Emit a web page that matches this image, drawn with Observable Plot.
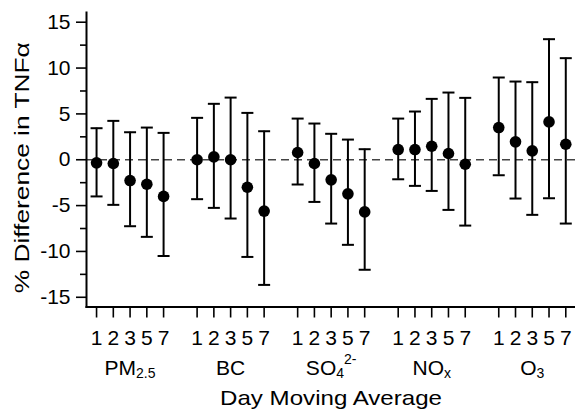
<!DOCTYPE html>
<html><head><meta charset="utf-8">
<script src="https://cdn.jsdelivr.net/npm/d3@7"></script>
<script src="https://cdn.jsdelivr.net/npm/@observablehq/plot@0.6"></script>
<style>html,body{margin:0;padding:0;background:#fff} svg{display:block}</style>
</head><body><div id="chart"></div>
<script>
// ---- data ----
const pollutants = ["PM2.5", "BC", "SO42-", "NOx", "O3"];
const labelBase = ["PM", "BC", "SO", "NO", "O"];
const labelSub = ["2.5", "", "4", "x", "3"];
const labelSup = ["", "", "2-", "", ""];
const days = ["1", "2", "3", "5", "7"];
const estimate = [
  -0.34, -0.41, -2.27, -2.67, -4.0,
  0.0, 0.31, 0.0, -3.0, -5.6,
  0.79, -0.41, -2.19, -3.72, -5.69,
  1.11, 1.11, 1.47, 0.68, -0.49,
  3.51, 1.95, 0.97, 4.13, 1.69
];
const lower = [
  -4.0, -4.92, -7.25, -8.41, -10.5,
  -4.3, -5.25, -6.41, -10.6, -13.65,
  -2.7, -4.6, -6.96, -9.28, -12.0,
  -2.13, -2.85, -3.4, -5.47, -7.18,
  -1.69, -4.23, -6.01, -4.2, -6.96
];
const upper = [
  3.44, 4.24, 3.0, 3.51, 2.93,
  4.57, 6.1, 6.78, 5.11, 3.11,
  4.49, 3.95, 2.83, 2.2, 1.15,
  4.49, 5.26, 6.64, 7.33, 6.75,
  8.97, 8.53, 8.46, 13.15, 11.08
];
const yTicks = [-15, -10, -5, 0, 5, 10, 15];
const yMinorTicks = [-12.5, -7.5, -2.5, 2.5, 7.5, 12.5];
const yTitle = "% Difference in TNFα";
const xTitle = "Day Moving Average";

// ---- build table ----
const slotsPerGroup = days.length + 1; // one empty slot between groups
const rows = [];
pollutants.forEach((p, g) => days.forEach((d, k) => {
  const i = g * days.length + k;
  rows.push({pollutant: p, day: d, slot: g * slotsPerGroup + k, est: estimate[i], lo: lower[i], hi: upper[i]});
}));
const groups = pollutants.map((p, g) => ({
  name: p, base: labelBase[g], sub: labelSub[g], sup: labelSup[g],
  slot: g * slotsPerGroup + (days.length - 1) / 2
}));
const dayOfSlot = new Map(rows.map(r => [r.slot, r.day]));

const font = "'Liberation Sans', Arial, Helvetica, sans-serif";
const cap = {draw(ctx) { ctx.moveTo(-6, 0); ctx.lineTo(6, 0); }};

const chart = Plot.plot({
  width: 575, height: 415,
  marginLeft: 86, marginRight: 0, marginTop: 12, marginBottom: 108.5,
  style: {fontFamily: font, color: "#000", background: "#fff", overflow: "visible"},
  x: {type: "linear", domain: [-0.6, 28.58]},
  y: {domain: [-16.06, 16.06]},
  marks: [
    Plot.ruleY([0], {stroke: "#444", strokeWidth: 1.6, strokeDasharray: "8,5"}),
    Plot.frame({anchor: "left", stroke: "#000", strokeWidth: 2}),
    Plot.frame({anchor: "bottom", stroke: "#000", strokeWidth: 2}),
    Plot.axisY({ticks: yTicks, tickSize: 10, tickPadding: 6, tickFormat: d => String(d), fontSize: 21, label: null, strokeWidth: 1.6}),
    Plot.axisY({ticks: yMinorTicks, tickSize: 6, tickFormat: () => "", label: null, strokeWidth: 1.6}),
    Plot.axisX({ticks: rows.map(r => r.slot), tickSize: 11, tickPadding: 12, tickFormat: s => dayOfSlot.get(s), fontSize: 21, label: null, strokeWidth: 1.6}),
    Plot.ruleX(rows, {x: "slot", y1: "lo", y2: "hi", stroke: "#000", strokeWidth: 2}),
    Plot.dot(rows, {x: "slot", y: "lo", symbol: cap, stroke: "#000", strokeWidth: 2, fill: "none"}),
    Plot.dot(rows, {x: "slot", y: "hi", symbol: cap, stroke: "#000", strokeWidth: 2, fill: "none"}),
    Plot.dot(rows, {x: "slot", y: "est", r: 5.8, fill: "#000", stroke: "none"}),
    Plot.text(groups, {x: "slot", text: "name", frameAnchor: "bottom", dy: 67.5, lineAnchor: "bottom", fontSize: 21, ariaDescription: "group-labels"}),
    Plot.text([xTitle], {text: d => d, frameAnchor: "bottom", dy: 98, lineAnchor: "bottom", fontSize: 21, ariaDescription: "x-title"}),
    Plot.text([yTitle], {text: d => d, frameAnchor: "left", textAnchor: "middle", dx: -64, dy: 8, rotate: -90, fontSize: 21, ariaDescription: "y-title"})
  ]
});

// rich text for chemical labels (sub/superscripts)
const svg = d3.select(chart);
svg.selectAll('g[aria-description="group-labels"] text').each(function(_, i) {
  const g = groups[i];
  const t = d3.select(this);
  t.text(null);
  t.append("tspan").text(g.base);
  if (g.sub) t.append("tspan").attr("font-size", 14).attr("dy", 3).text(g.sub);
  if (g.sup) t.append("tspan").attr("font-size", 14).attr("dy", -14).text(g.sup);
});
svg.selectAll('g[aria-description="x-title"] text').attr("textLength", 222).attr("lengthAdjust", "spacingAndGlyphs");
svg.selectAll('g[aria-description="y-title"] text').attr("textLength", 251).attr("lengthAdjust", "spacingAndGlyphs");

document.getElementById("chart").appendChild(chart);
</script>
</body></html>
